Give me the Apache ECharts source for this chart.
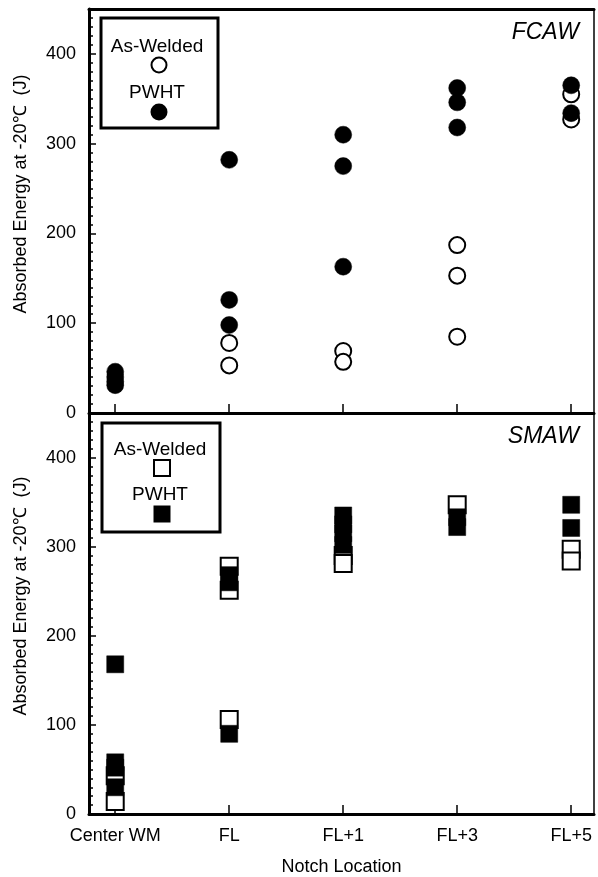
<!DOCTYPE html>
<html><head><meta charset="utf-8">
<script src="https://cdn.jsdelivr.net/npm/echarts@6/dist/echarts.min.js"></script>
<style>html,body{margin:0;padding:0;background:#fff}#c{width:598px;height:877px}</style>
</head><body><div id="c"></div>
<script>
// Notch locations (x categories)
const categories = ['Center WM', 'FL', 'FL+1', 'FL+3', 'FL+5'];
// y tick labels (J)
const yTicks = [0, 100, 200, 300, 400];
// FCAW absorbed energy at -20°C (J), per notch location
const fcawAsWelded = [[], [78, 53], [69, 57], [187, 153, 85], [355, 327]];
const fcawPWHT = [[46, 40, 35, 31], [282, 126, 98], [310, 275, 163], [362, 346, 318], [365, 334]];
// SMAW absorbed energy at -20°C (J), per notch location
const smawAsWelded = [[43, 14], [278, 251, 106], [290, 281], [347], [297, 284]];
const smawPWHT = [[168, 58, 52, 30], [268, 260, 90], [335, 325, 315, 302], [333, 322], [347, 321]];

const toPts = arr => arr.flatMap((vals, i) => vals.map(v => [i, v]));
const FONT = '"Liberation Sans", Arial, sans-serif';
const catIdx = categories.map((c, i) => i);

function xAxes(grid, showLabels) {
  return [
    { type: 'value', gridIndex: grid, position: 'bottom', min: -0.23, max: 4.2,
      axisLine: { onZero: false, lineStyle: { color: '#000', width: 3 } },
      axisTick: { show: true, inside: true, length: 9, customValues: catIdx, lineStyle: { color: '#000', width: 1.5 } },
      axisLabel: { show: showLabels, customValues: catIdx, formatter: v => categories[Math.round(v)],
        color: '#000', fontSize: 18, fontFamily: FONT, margin: 13 },
      splitLine: { show: false },
      name: showLabels ? 'Notch Location' : '', nameLocation: 'middle', nameGap: 44,
      nameTextStyle: { color: '#000', fontSize: 18, fontFamily: FONT } },
    { type: 'value', gridIndex: grid, position: 'top', min: -0.23, max: 4.2,
      axisLine: { show: grid === 0, onZero: false, lineStyle: { color: '#000', width: 3 } },
      axisTick: { show: false }, axisLabel: { show: false }, splitLine: { show: false } }
  ];
}
function yAxes(grid) {
  return [
    { type: 'value', gridIndex: grid, position: 'left', min: 0, max: 450, interval: 100,
      axisLine: { onZero: false, lineStyle: { color: '#000', width: 3 } },
      axisTick: { inside: true, length: 7, lineStyle: { color: '#000', width: 1.5 } },
      axisLabel: { customValues: yTicks, color: '#000', fontSize: 18, fontFamily: FONT, margin: 13 },
      splitLine: { show: false } },
    { type: 'value', gridIndex: grid, position: 'left', min: 0, max: 450, interval: 10,
      axisLine: { show: false, onZero: false },
      axisTick: { inside: true, length: 4, lineStyle: { color: '#000', width: 1.5 } },
      axisLabel: { show: false }, splitLine: { show: false } },
    { type: 'value', gridIndex: grid, position: 'right', min: 0, max: 450,
      axisLine: { onZero: false, lineStyle: { color: '#000', width: 1.5 } },
      axisTick: { show: false }, axisLabel: { show: false }, splitLine: { show: false } }
  ];
}

const openStyle = { color: '#fff', borderColor: '#000', borderWidth: 2, opacity: 1 };
const fillStyle = { color: '#000', borderColor: '#000', borderWidth: 0.5, opacity: 1 };

const chart = echarts.init(document.getElementById('c'), null, { renderer: 'canvas' });
chart.setOption({
  animation: false,
  backgroundColor: '#fff',
  grid: [
    { left: 89, right: 4, top: 9, height: 404 },
    { left: 89, right: 4, top: 413, height: 402 }
  ],
  xAxis: [...xAxes(0, false), ...xAxes(1, true)],
  yAxis: [...yAxes(0), ...yAxes(1)],
  series: [
    { name: 'As-Welded (FCAW)', type: 'scatter', xAxisIndex: 0, yAxisIndex: 0, symbol: 'circle', symbolSize: 16,
      itemStyle: openStyle, data: toPts(fcawAsWelded), silent: true },
    { name: 'PWHT (FCAW)', type: 'scatter', xAxisIndex: 0, yAxisIndex: 0, symbol: 'circle', symbolSize: 17,
      itemStyle: fillStyle, data: toPts(fcawPWHT), silent: true },
    { name: 'As-Welded (SMAW)', type: 'scatter', xAxisIndex: 2, yAxisIndex: 3, symbol: 'rect', symbolSize: 17,
      itemStyle: openStyle, data: toPts(smawAsWelded), silent: true },
    { name: 'PWHT (SMAW)', type: 'scatter', xAxisIndex: 2, yAxisIndex: 3, symbol: 'rect', symbolSize: 17,
      itemStyle: fillStyle, data: toPts(smawPWHT), silent: true }
  ],
  graphic: [
    // y-axis titles
    { type: 'text', x: 21, y: 194, rotation: Math.PI / 2,
      style: { text: 'Absorbed Energy at -20\u2103  (J)', fill: '#000', font: '18px ' + FONT, align: 'center', verticalAlign: 'middle' } },
    { type: 'text', x: 21, y: 596, rotation: Math.PI / 2,
      style: { text: 'Absorbed Energy at -20\u2103  (J)', fill: '#000', font: '18px ' + FONT, align: 'center', verticalAlign: 'middle' } },
    // panel labels
    { type: 'text', x: 579, y: 33, style: { text: 'FCAW', fill: '#000', font: 'italic 23px ' + FONT, align: 'right', verticalAlign: 'middle' } },
    { type: 'text', x: 579, y: 437, style: { text: 'SMAW', fill: '#000', font: 'italic 23px ' + FONT, align: 'right', verticalAlign: 'middle' } },
    // legend top
    { type: 'rect', shape: { x: 101, y: 18, width: 117, height: 110 }, style: { fill: '#fff', stroke: '#000', lineWidth: 3 } },
    { type: 'text', x: 157, y: 47, style: { text: 'As-Welded', fill: '#000', font: '19px ' + FONT, align: 'center', verticalAlign: 'middle' } },
    { type: 'circle', shape: { cx: 159, cy: 65, r: 7.5 }, style: { fill: '#fff', stroke: '#000', lineWidth: 2 } },
    { type: 'text', x: 157, y: 93, style: { text: 'PWHT', fill: '#000', font: '19px ' + FONT, align: 'center', verticalAlign: 'middle' } },
    { type: 'circle', shape: { cx: 159, cy: 112, r: 8.5 }, style: { fill: '#000' } },
    // legend bottom
    { type: 'rect', shape: { x: 102, y: 423, width: 118, height: 109 }, style: { fill: '#fff', stroke: '#000', lineWidth: 3 } },
    { type: 'text', x: 160, y: 450, style: { text: 'As-Welded', fill: '#000', font: '19px ' + FONT, align: 'center', verticalAlign: 'middle' } },
    { type: 'rect', shape: { x: 154, y: 460, width: 16, height: 16 }, style: { fill: '#fff', stroke: '#000', lineWidth: 2 } },
    { type: 'text', x: 160, y: 495, style: { text: 'PWHT', fill: '#000', font: '19px ' + FONT, align: 'center', verticalAlign: 'middle' } },
    { type: 'rect', shape: { x: 153.5, y: 505.5, width: 17, height: 17 }, style: { fill: '#000' } }
  ]
});
</script></body></html>
